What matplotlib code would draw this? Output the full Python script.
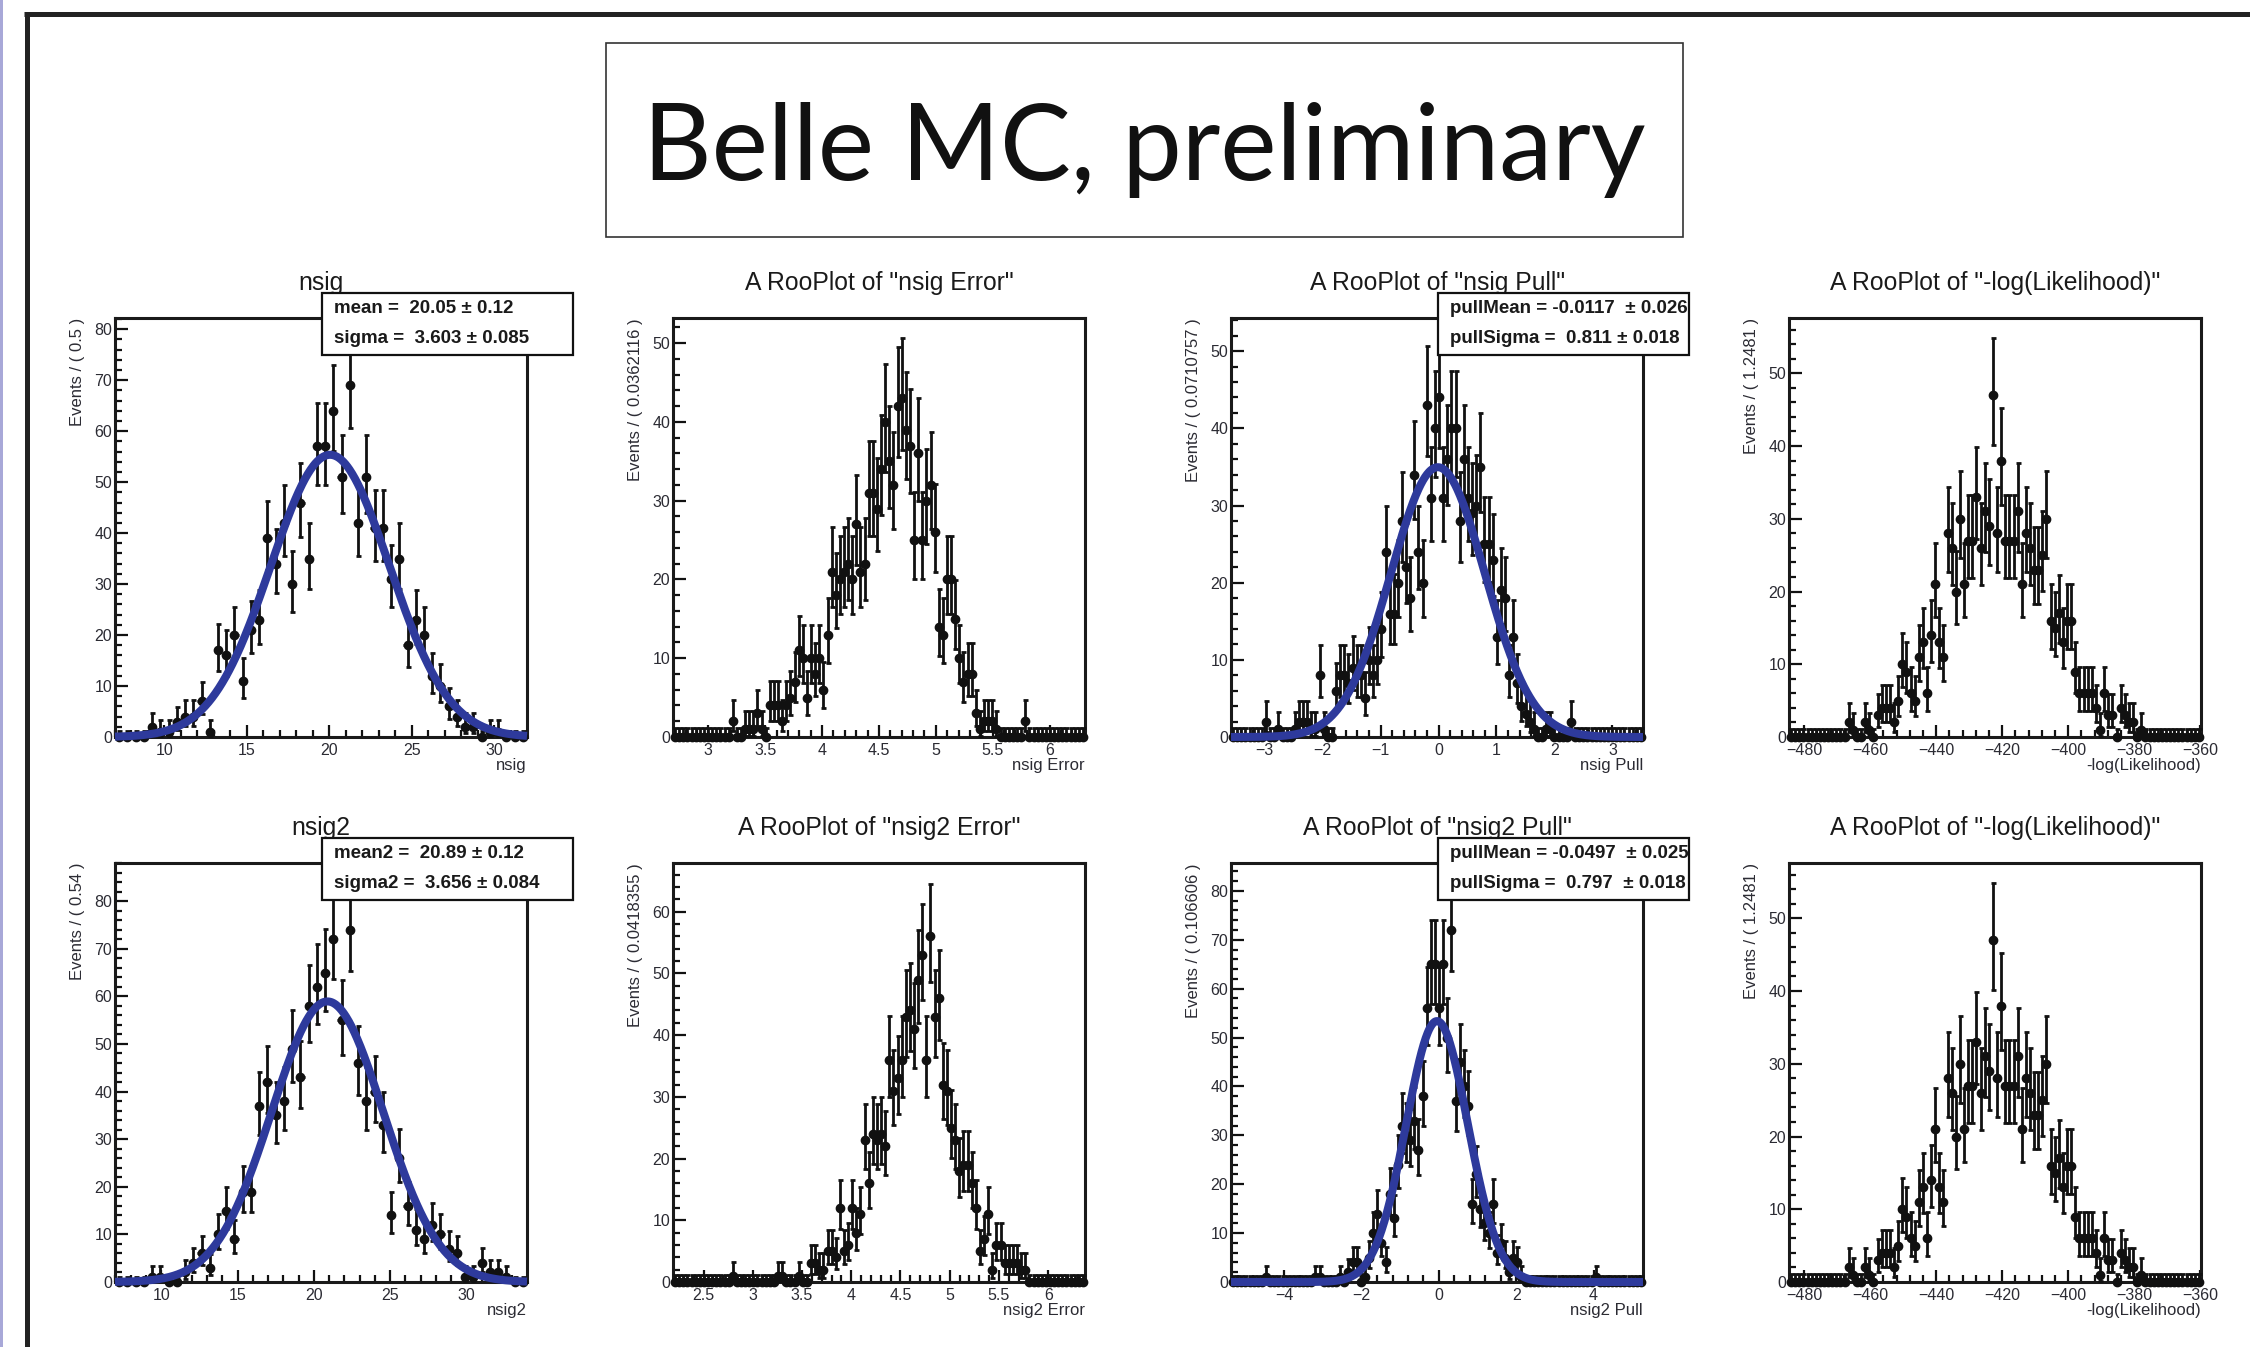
import math
import numpy as np
import matplotlib
matplotlib.use("Agg")
import matplotlib.pyplot as plt
from matplotlib.patches import Rectangle
from matplotlib.lines import Line2D
from matplotlib.ticker import MultipleLocator, AutoMinorLocator, FuncFormatter

plt.rcParams['font.family'] = ['Liberation Sans', 'DejaVu Sans']

# ---- data (counts per bin) ----
n_toys = 1000

nsig_counts = [0, 0, 0, 0, 2, 1, 1, 3, 4, 4, 7, 1, 17, 16, 20, 11, 21, 23, 39, 34,
               42, 30, 46, 35, 57, 57, 64, 51, 69, 42, 51, 41, 41, 31, 35, 18, 23, 20, 12, 10,
               6, 4, 2, 2, 0, 1, 1, 0, 0, 0]
nsig2_counts = [0, 0, 0, 0, 1, 1, 0, 0, 2, 4, 6, 3, 10, 15, 9, 19, 19, 37, 42, 35,
                38, 49, 43, 58, 62, 65, 72, 55, 74, 46, 38, 40, 33, 14, 26, 16, 11, 9, 12, 10,
                7, 6, 1, 1, 4, 2, 2, 1, 0, 0]
nsig_err_counts = [0] * 14 + [2, 0, 0, 1, 1, 1, 3, 1, 0, 4, 4, 4, 2, 4, 5, 7,
                              11, 10, 5, 10, 8, 10, 6, 13, 21, 18, 20, 21, 22, 20, 27, 21,
                              22, 31, 31, 29, 34, 40, 35, 32, 42, 43, 39, 37, 25, 36, 25, 30,
                              32, 26, 14, 13, 20, 20, 15, 10, 7, 8, 8, 3, 1, 2, 2, 2,
                              1, 0, 0, 0, 0, 0, 0, 2] + [0] * 14
nsig2_err_counts = [0] * 14 + [1, 0, 0, 0, 0, 0, 0, 0, 0, 0, 0, 1, 1, 0, 0, 0,
                               1, 0, 0, 3, 3, 2, 2, 5, 5, 4, 12, 5, 6, 12, 8, 11,
                               23, 16, 24, 23, 24, 22, 36, 31, 33, 36, 43, 44, 41, 49, 53, 36,
                               56, 43, 46, 32, 31, 25, 23, 18, 19, 19, 16, 12, 5, 7, 11, 2,
                               6, 6, 3, 3, 3, 3, 2, 2] + [0] * 14
nsig_pull_counts = [0] * 8 + [2, 0, 0, 1, 0, 0, 0, 1, 2, 2, 2, 1, 1, 8, 1, 0,
                              0, 6, 8, 8, 7, 9, 8, 8, 5, 10, 8, 10, 14, 24, 16, 16,
                              20, 28, 22, 18, 34, 24, 20, 43, 31, 40, 44, 31, 36, 40, 40, 28,
                              36, 31, 29, 30, 35, 25, 25, 23, 13, 19, 18, 8, 13, 7, 4, 3,
                              2, 1, 0, 0, 1, 1, 0, 0, 0, 0, 2] + [0] * 17
nsig2_pull_counts = [0] * 8 + [1, 0, 0, 0, 0, 0, 0, 0, 0, 0, 0, 0, 1, 1, 0, 0,
                               0, 0, 1, 0, 2, 4, 4, 0, 1, 5, 10, 14, 8, 4, 18, 13,
                               24, 32, 30, 29, 33, 27, 38, 56, 65, 65, 56, 65, 50, 72, 37, 45,
                               40, 36, 16, 22, 15, 12, 10, 16, 6, 8, 5, 2, 5, 4, 1, 0,
                               0, 0, 0, 0, 0, 0, 0, 0, 0, 0, 0, 0, 0, 0, 0, 0, 1] + [0] * 11
nll_counts = [0] * 14 + [2, 1, 0, 0, 2, 1, 0, 3, 4, 4, 4, 2, 5, 10, 9, 6,
                         5, 11, 13, 6, 14, 21, 13, 11, 28, 26, 20, 30, 21, 27, 27, 33,
                         26, 31, 29, 47, 28, 38, 27, 27, 27, 31, 21, 28, 26, 23, 23, 25,
                         30, 16, 15, 17, 13, 16, 16, 9, 6, 6, 6, 6, 4, 1, 6, 3,
                         3, 0, 4, 3, 2, 2, 0, 1] + [0] * 14

# binning (xmin, bin width)
bins = {
    'nsig': (7.0, 0.5), 'nsig2': (6.97, 0.54),
    'nsig_err': (2.69, 0.0362116), 'nsig2_err': (2.19, 0.0418355),
    'nsig_pull': (-3.58, 0.0710757), 'nsig2_pull': (-5.38, 0.106606),
    'nll': (-484.6, 1.2481),
}

# fit results shown in the stat boxes
fit_nsig = (20.05, 3.603)
fit_nsig2 = (20.89, 3.656)
fit_nsig_pull = (-0.0117, 0.811)
fit_nsig2_pull = (-0.0497, 0.797)

panels = [
    dict(counts=nsig_counts, bins='nsig', ytop=82.2, xmaj=5, title='nsig', xlabel='nsig',
         ylabel='Events / ( 0.5 )', fit=fit_nsig,
         box=['mean =  20.05 \u00b1 0.12', 'sigma =  3.603 \u00b1 0.085']),
    dict(counts=nsig_err_counts, bins='nsig_err', ytop=53.2, xmaj=0.5,
         title='A RooPlot of "nsig Error"', xlabel='nsig Error', ylabel='Events / ( 0.0362116 )'),
    dict(counts=nsig_pull_counts, bins='nsig_pull', ytop=54.3, xmaj=1,
         title='A RooPlot of "nsig Pull"', xlabel='nsig Pull', ylabel='Events / ( 0.0710757 )',
         fit=fit_nsig_pull,
         box=['pullMean = -0.0117  \u00b1 0.026', 'pullSigma =  0.811 \u00b1 0.018']),
    dict(counts=nll_counts, bins='nll', ytop=57.6, xmaj=20,
         title='A RooPlot of "-log(Likelihood)"', xlabel='-log(Likelihood)',
         ylabel='Events / ( 1.2481 )'),
    dict(counts=nsig2_counts, bins='nsig2', ytop=88.0, xmaj=5, title='nsig2', xlabel='nsig2',
         ylabel='Events / ( 0.54 )', fit=fit_nsig2,
         box=['mean2 =  20.89 \u00b1 0.12', 'sigma2 =  3.656 \u00b1 0.084']),
    dict(counts=nsig2_err_counts, bins='nsig2_err', ytop=67.9, xmaj=0.5,
         title='A RooPlot of "nsig2 Error"', xlabel='nsig2 Error', ylabel='Events / ( 0.0418355 )'),
    dict(counts=nsig2_pull_counts, bins='nsig2_pull', ytop=85.7, xmaj=2,
         title='A RooPlot of "nsig2 Pull"', xlabel='nsig2 Pull', ylabel='Events / ( 0.106606 )',
         fit=fit_nsig2_pull,
         box=['pullMean = -0.0497  \u00b1 0.025', 'pullSigma =  0.797  \u00b1 0.018']),
    dict(counts=nll_counts, bins='nll', ytop=57.6, xmaj=20,
         title='A RooPlot of "-log(Likelihood)"', xlabel='-log(Likelihood)',
         ylabel='Events / ( 1.2481 )'),
]


def pois_cdf(n, mu):
    if mu <= 0:
        return 1.0
    s = 0.0
    for k in range(n + 1):
        s += math.exp(-mu + k * math.log(mu) - math.lgamma(k + 1))
    return s


def poisson_interval(n):
    # RooFit style 68% interval
    a = 0.5 * (1 - 0.682689)
    if n == 0:
        return 0.0, -math.log(1 - 0.682689)
    lo, hi = 0.0, float(n)
    for _ in range(60):
        m = 0.5 * (lo + hi)
        if 1 - pois_cdf(n - 1, m) < a:
            lo = m
        else:
            hi = m
    low = 0.5 * (lo + hi)
    lo, hi = float(n), n + 10 * math.sqrt(n) + 10
    for _ in range(60):
        m = 0.5 * (lo + hi)
        if pois_cdf(n, m) > a:
            lo = m
        else:
            hi = m
    return low, 0.5 * (lo + hi)


def fmt_tick(v, pos):
    return ('%g' % round(v, 6)).replace('-', '\u2212')


W, H = 2250, 1347
fig = plt.figure(figsize=(W / 100, H / 100), dpi=100)
fig.patch.set_facecolor('white')

col_left = [115, 673, 1231, 1789]
row_top = [318, 863]
ax_w, ax_h = 412, 419
blue = '#2e3a9c'
txt_col = '#2b2b33'

for i, p in enumerate(panels):
    r, c = divmod(i, 4)
    ax = fig.add_axes([col_left[c] / W, 1 - (row_top[r] + ax_h) / H, ax_w / W, ax_h / H])
    xmin, bw = bins[p['bins']]
    counts = np.array(p['counts'], dtype=float)
    nb = len(counts)
    xmax = xmin + nb * bw
    xc = xmin + bw * (np.arange(nb) + 0.5)
    ints = [poisson_interval(int(n)) for n in counts]
    ylo = counts - np.array([t[0] for t in ints])
    yhi = np.array([t[1] for t in ints]) - counts

    eb = ax.errorbar(xc, counts, yerr=[ylo, yhi], fmt='o', color='#111111', ms=6,
                     elinewidth=2.0, capsize=1.8, capthick=2.0, zorder=3)
    hl = ax.hlines(counts, xc - bw / 2, xc + bw / 2, color='#111111', lw=2.0, zorder=3)
    for a in eb.get_children() + [hl]:
        a.set_clip_on(False)

    if 'fit' in p:
        mu, sg = p['fit']
        xx = np.linspace(xmin, xmax, 600)
        yy = n_toys * bw / (sg * math.sqrt(2 * math.pi)) * np.exp(-0.5 * ((xx - mu) / sg) ** 2)
        ax.plot(xx, yy, color=blue, lw=5.8, zorder=4, clip_on=False, solid_capstyle='butt')

    ax.set_xlim(xmin, xmax)
    ax.set_ylim(0, p['ytop'])
    ax.xaxis.set_major_locator(MultipleLocator(p['xmaj']))
    ax.xaxis.set_minor_locator(AutoMinorLocator(5))
    ax.yaxis.set_major_locator(MultipleLocator(10))
    ax.yaxis.set_minor_locator(AutoMinorLocator(5))
    ax.xaxis.set_major_formatter(FuncFormatter(fmt_tick))
    ax.yaxis.set_major_formatter(FuncFormatter(fmt_tick))
    ax.tick_params(which='both', direction='in', top=False, right=False, width=1.6,
                   color='#111111', labelcolor=txt_col, labelsize=11.5)
    ax.tick_params(which='major', length=9)
    ax.tick_params(which='minor', length=5)
    ax.tick_params(axis='y', pad=2)
    ax.tick_params(axis='x', pad=4)
    for s in ax.spines.values():
        s.set_linewidth(2.2)
        s.set_color('#1a1a1a')

    ax.text(0.5, 1.0835, p['title'], transform=ax.transAxes, ha='center', va='center',
            fontsize=17.8, color='#1a1a1a', zorder=1)
    ax.text(1.0, -0.067, p['xlabel'], transform=ax.transAxes, ha='right', va='center',
            fontsize=12, color=txt_col)
    ax.text(-0.092, 1.0, p['ylabel'], transform=ax.transAxes, ha='center', va='top',
            rotation=90, fontsize=12, color=txt_col)

    if 'box' in p:
        rect = Rectangle((0.502, 0.912), 0.61, 0.148, transform=ax.transAxes,
                         facecolor='white', edgecolor='#111111', lw=1.6,
                         clip_on=False, zorder=10)
        ax.add_patch(rect)
        for j, line in enumerate(p['box']):
            t = ax.text(0.532, 1.0215 - j * 0.0695, line, transform=ax.transAxes,
                        ha='left', va='center', fontsize=13.5, fontweight='bold',
                        color='#1a1a1a', zorder=11)
            t.set_clip_path(rect)

# page frame
fig.add_artist(Rectangle((0, 0), 2.5 / W, 1, transform=fig.transFigure,
                         facecolor='#a8a8d8', edgecolor='none'))
fig.add_artist(Line2D([24 / W, 1], [1 - 14 / H, 1 - 14 / H], transform=fig.transFigure,
                      color='#222222', lw=3.6, solid_capstyle='butt'))
fig.add_artist(Line2D([26.5 / W, 26.5 / W], [0, 1 - 12 / H], transform=fig.transFigure,
                      color='#222222', lw=3.6, solid_capstyle='butt'))

# banner
fig.add_artist(Rectangle((606 / W, 1 - 237 / H), 1077 / W, 194 / H, transform=fig.transFigure,
                         facecolor='white', edgecolor='#333333', lw=1.2))
fig.text(1144 / W, 1 - 180 / H, 'Belle MC, preliminary', ha='center', va='baseline',
         fontsize=76.5, color='#111111', family=['Lato', 'DejaVu Sans'])

fig.savefig('out.png', dpi=100, facecolor='white')
